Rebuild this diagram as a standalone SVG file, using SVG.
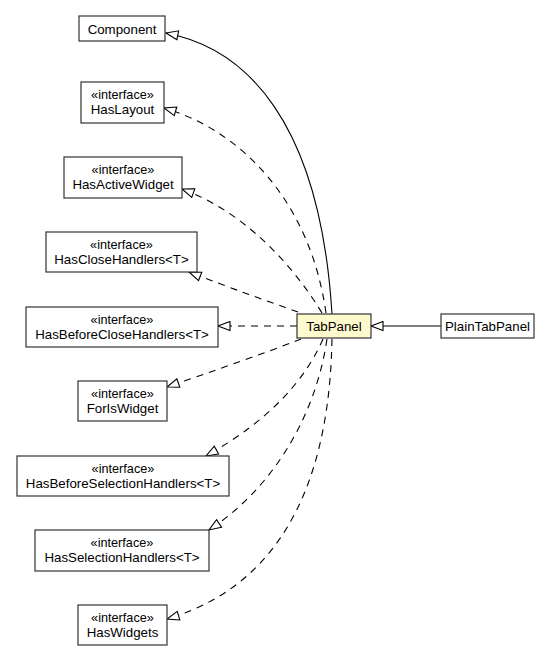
<svg xmlns="http://www.w3.org/2000/svg" width="559" height="656" viewBox="0 0 559 656">
<style>
.box{fill:#fff;stroke:#333;stroke-width:1.2}
.main{fill:#fffacd;stroke:#333;stroke-width:1.2}
.t{font-family:"Liberation Sans",Arial,sans-serif;font-size:13.3px;fill:#000;text-anchor:middle}
.s{font-family:"Liberation Sans",Arial,sans-serif;font-size:12.7px;fill:#000;text-anchor:middle}
.e{fill:none;stroke:#000;stroke-width:1.1;marker-end:url(#tri)}
.d{stroke-dasharray:7,6}
</style>
<defs>
<marker id="tri" viewBox="0 0 14 11" refX="13" refY="5.5" markerWidth="14" markerHeight="11" markerUnits="userSpaceOnUse" orient="auto">
<path d="M1,1 L13,5.5 L1,10 Z" fill="#fff" stroke="#000" stroke-width="1.1" stroke-dasharray="none"/>
</marker>
</defs>
<g id="connectors">
<path class="e" d="M332,314 C320,120 245,48 166,33"/>
<path class="e d" d="M326,313 C310,200 240,130 164,108"/>
<path class="e d" d="M322,313 C290,260 240,210 182,189"/>
<path class="e d" d="M298,312 C270,302 230,288 189,272"/>
<path class="e d" d="M297,326 L218,326"/>
<path class="e d" d="M301,339 C260,355 210,372 167,387"/>
<path class="e d" d="M323,339 C305,380 270,420 206,456"/>
<path class="e d" d="M327,339 C315,420 270,490 209,530"/>
<path class="e d" d="M332,339 C330,450 300,580 167,619"/>
<path class="e" d="M441,326 L371,326"/>
</g>
<g id="Component"><rect class="box" x="79" y="16" width="86" height="25"/><text class="t" x="122" y="34.3">Component</text></g>
<g id="HasLayout"><rect class="box" x="81" y="82" width="83" height="41"/><text class="s" x="122.5" y="99.3">«interface»</text><text class="t" x="122.5" y="114.3">HasLayout</text></g>
<g id="HasActiveWidget"><rect class="box" x="64" y="157" width="118" height="41"/><text class="s" x="123" y="174.3">«interface»</text><text class="t" x="123" y="189.3">HasActiveWidget</text></g>
<g id="HasCloseHandlers"><rect class="box" x="46" y="232" width="151" height="40"/><text class="s" x="121.5" y="249.3">«interface»</text><text class="t" x="121.5" y="264.3">HasCloseHandlers&lt;T&gt;</text></g>
<g id="HasBeforeCloseHandlers"><rect class="box" x="26" y="307" width="192" height="40"/><text class="s" x="122" y="324.3">«interface»</text><text class="t" x="122" y="339.3">HasBeforeCloseHandlers&lt;T&gt;</text></g>
<g id="TabPanel"><rect class="main" x="297" y="314" width="74" height="24"/><text class="t" x="334" y="331">TabPanel</text></g>
<g id="PlainTabPanel"><rect class="box" x="441" y="314" width="93" height="24"/><text class="t" x="487.5" y="331">PlainTabPanel</text></g>
<g id="ForIsWidget"><rect class="box" x="78" y="381" width="89" height="40"/><text class="s" x="122.5" y="398.3">«interface»</text><text class="t" x="122.5" y="413.3">ForIsWidget</text></g>
<g id="HasBeforeSelectionHandlers"><rect class="box" x="17" y="456" width="212" height="40"/><text class="s" x="123" y="473.3">«interface»</text><text class="t" x="123" y="488.3">HasBeforeSelectionHandlers&lt;T&gt;</text></g>
<g id="HasSelectionHandlers"><rect class="box" x="35" y="530" width="174" height="41"/><text class="s" x="122" y="547.3">«interface»</text><text class="t" x="122" y="562.3">HasSelectionHandlers&lt;T&gt;</text></g>
<g id="HasWidgets"><rect class="box" x="78" y="605" width="89" height="40"/><text class="s" x="122.5" y="622.3">«interface»</text><text class="t" x="122.5" y="637.3">HasWidgets</text></g>
</svg>
